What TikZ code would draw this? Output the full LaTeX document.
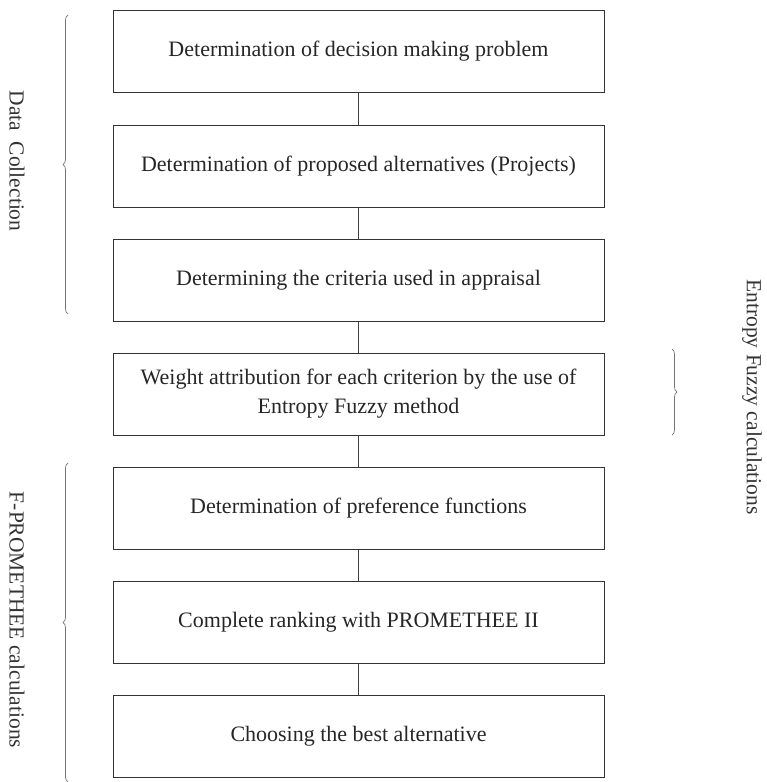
\documentclass[tikz,border=0pt]{standalone}
\usepackage{fontspec}
\setmainfont{Liberation Serif}
\usetikzlibrary{decorations.pathreplacing}
\begin{document}
\begin{tikzpicture}[x=1pt,y=-1pt,
  stepbox/.style={draw=black!80,line width=1pt,minimum width=491pt,minimum height=82pt,
    align=center,font=\fontsize{22}{26}\selectfont,inner sep=0pt,text=black!85},
  link/.style={draw=black!75,line width=1pt},
  bracestyle/.style={draw=black!55,line width=0.7pt,decorate},
  sidelabel/.style={font=\fontsize{21.5}{25}\selectfont,rotate=-90,text=black!80,inner sep=1pt}]
\useasboundingbox (0,0) rectangle (766,782);
\node[stepbox] (b1) at (358.5,51.5) {Determination of decision making problem};
\node[stepbox] (b2) at (358.5,166) {Determination of proposed alternatives (Projects)};
\node[stepbox] (b3) at (358.5,280) {Determining the criteria used in appraisal};
\node[stepbox] (b4) at (358.5,394) {Weight attribution for each criterion by the use of\\[3pt]Entropy Fuzzy method};
\node[stepbox] (b5) at (358.5,508) {Determination of preference functions};
\node[stepbox] (b6) at (358.5,622) {Complete ranking with PROMETHEE II};
\node[stepbox] (b7) at (358.5,736.5) {Choosing the best alternative};
\foreach \a/\b in {b1/b2,b2/b3,b3/b4,b4/b5,b5/b6,b6/b7}
  \draw[link] (\a.south) -- (\b.north);
\coordinate (dcA) at (68,314);
\coordinate (dcB) at (68,15);
\draw[bracestyle,decoration={brace,amplitude=5pt}] (dcA) -- (dcB);
\node[sidelabel] (dc) at (17,161) {Data\,\,\,Collection};
\coordinate (fpA) at (68,782);
\coordinate (fpB) at (68,463);
\draw[bracestyle,decoration={brace,amplitude=5pt}] (fpA) -- (fpB);
\node[sidelabel] (fp) at (17,620) {F-PROMETHEE calculations};
\coordinate (efA) at (672,349);
\coordinate (efB) at (672,435);
\draw[bracestyle,decoration={brace,amplitude=5pt}] (efA) -- (efB);
\node[sidelabel] (ef) at (752,397) {Entropy Fuzzy calculations};
\end{tikzpicture}
\end{document}
